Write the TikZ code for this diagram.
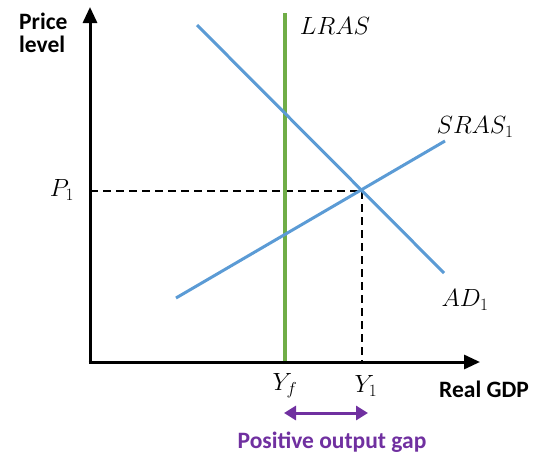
\documentclass[tikz,border=0pt]{standalone}
\usepackage{fontspec}
\setmainfont{Carlito}
\usetikzlibrary{arrows.meta}
\definecolor{curveblue}{HTML}{5B9BD5}
\definecolor{lrasgreen}{HTML}{70AD47}
\definecolor{gappurple}{HTML}{7030A0}
\begin{document}
\begin{tikzpicture}[x=1pt,y=-1pt,
  axis/.style={line width=3pt,-{Triangle[length=16pt,width=14pt]}},
  curve/.style={line width=3pt,curveblue},
  guide/.style={line width=1.8pt,dash pattern=on 8pt off 5pt},
  mathlbl/.style={inner sep=0pt,font=\fontsize{25}{29}\selectfont},
  boldlbl/.style={inner sep=0pt,font=\fontsize{23.5}{27}\selectfont\bfseries,align=left}]
\useasboundingbox (0,0) rectangle (535,455);
% coordinates
\coordinate (O) at (90,362);
\coordinate (ytop) at (90,7);
\coordinate (xend) at (480,362);
\coordinate (E) at (362,191);
\coordinate (Pax) at (90,191);
\coordinate (Yax) at (362,362);
\coordinate (lrasT) at (285,13);
\coordinate (lrasB) at (285,362);
\coordinate (adA) at (197,25);
\coordinate (adB) at (444,273);
\coordinate (srA) at (176,298);
\coordinate (srB) at (445,141);
\coordinate (gapL) at (284,413);
\coordinate (gapR) at (368,413);
% guides
\draw[guide] (Pax) -- (E);
\draw[guide] (E) -- (Yax);
% curves
\draw[line width=3.5pt,lrasgreen] (lrasB) -- (lrasT);
\draw[curve] (adA) -- (adB);
\draw[curve] (srA) -- (srB);
% axes
\draw[axis] ([yshift=-1.5pt]O) -- (ytop);
\draw[axis] ([xshift=-1.5pt]O) -- (xend);
% labels
\node[boldlbl,anchor=north west] (price) at (19,13) {Price\\[-4pt]level};
\node[boldlbl,anchor=west] (rgdp) at (439,389) {Real GDP};
\node[mathlbl] (lras) at (335,26) {$LRAS$};
\node[mathlbl] (sras) at (475,127) {$SRAS_1$};
\node[mathlbl] (ad) at (465,300) {$AD_1$};
\node[mathlbl] (p1) at (62,190) {$P_1$};
\node[mathlbl] (yf) at (285,386) {$Y_f$};
\node[mathlbl] (y1) at (366,386) {$Y_1$};
\draw[line width=3pt,gappurple,{Triangle[length=12pt,width=14pt]}-{Triangle[length=12pt,width=14pt]}] (gapL) -- (gapR);
\node[boldlbl,text=gappurple] (gap) at (332,442) {Positive output gap};
\end{tikzpicture}
\end{document}
